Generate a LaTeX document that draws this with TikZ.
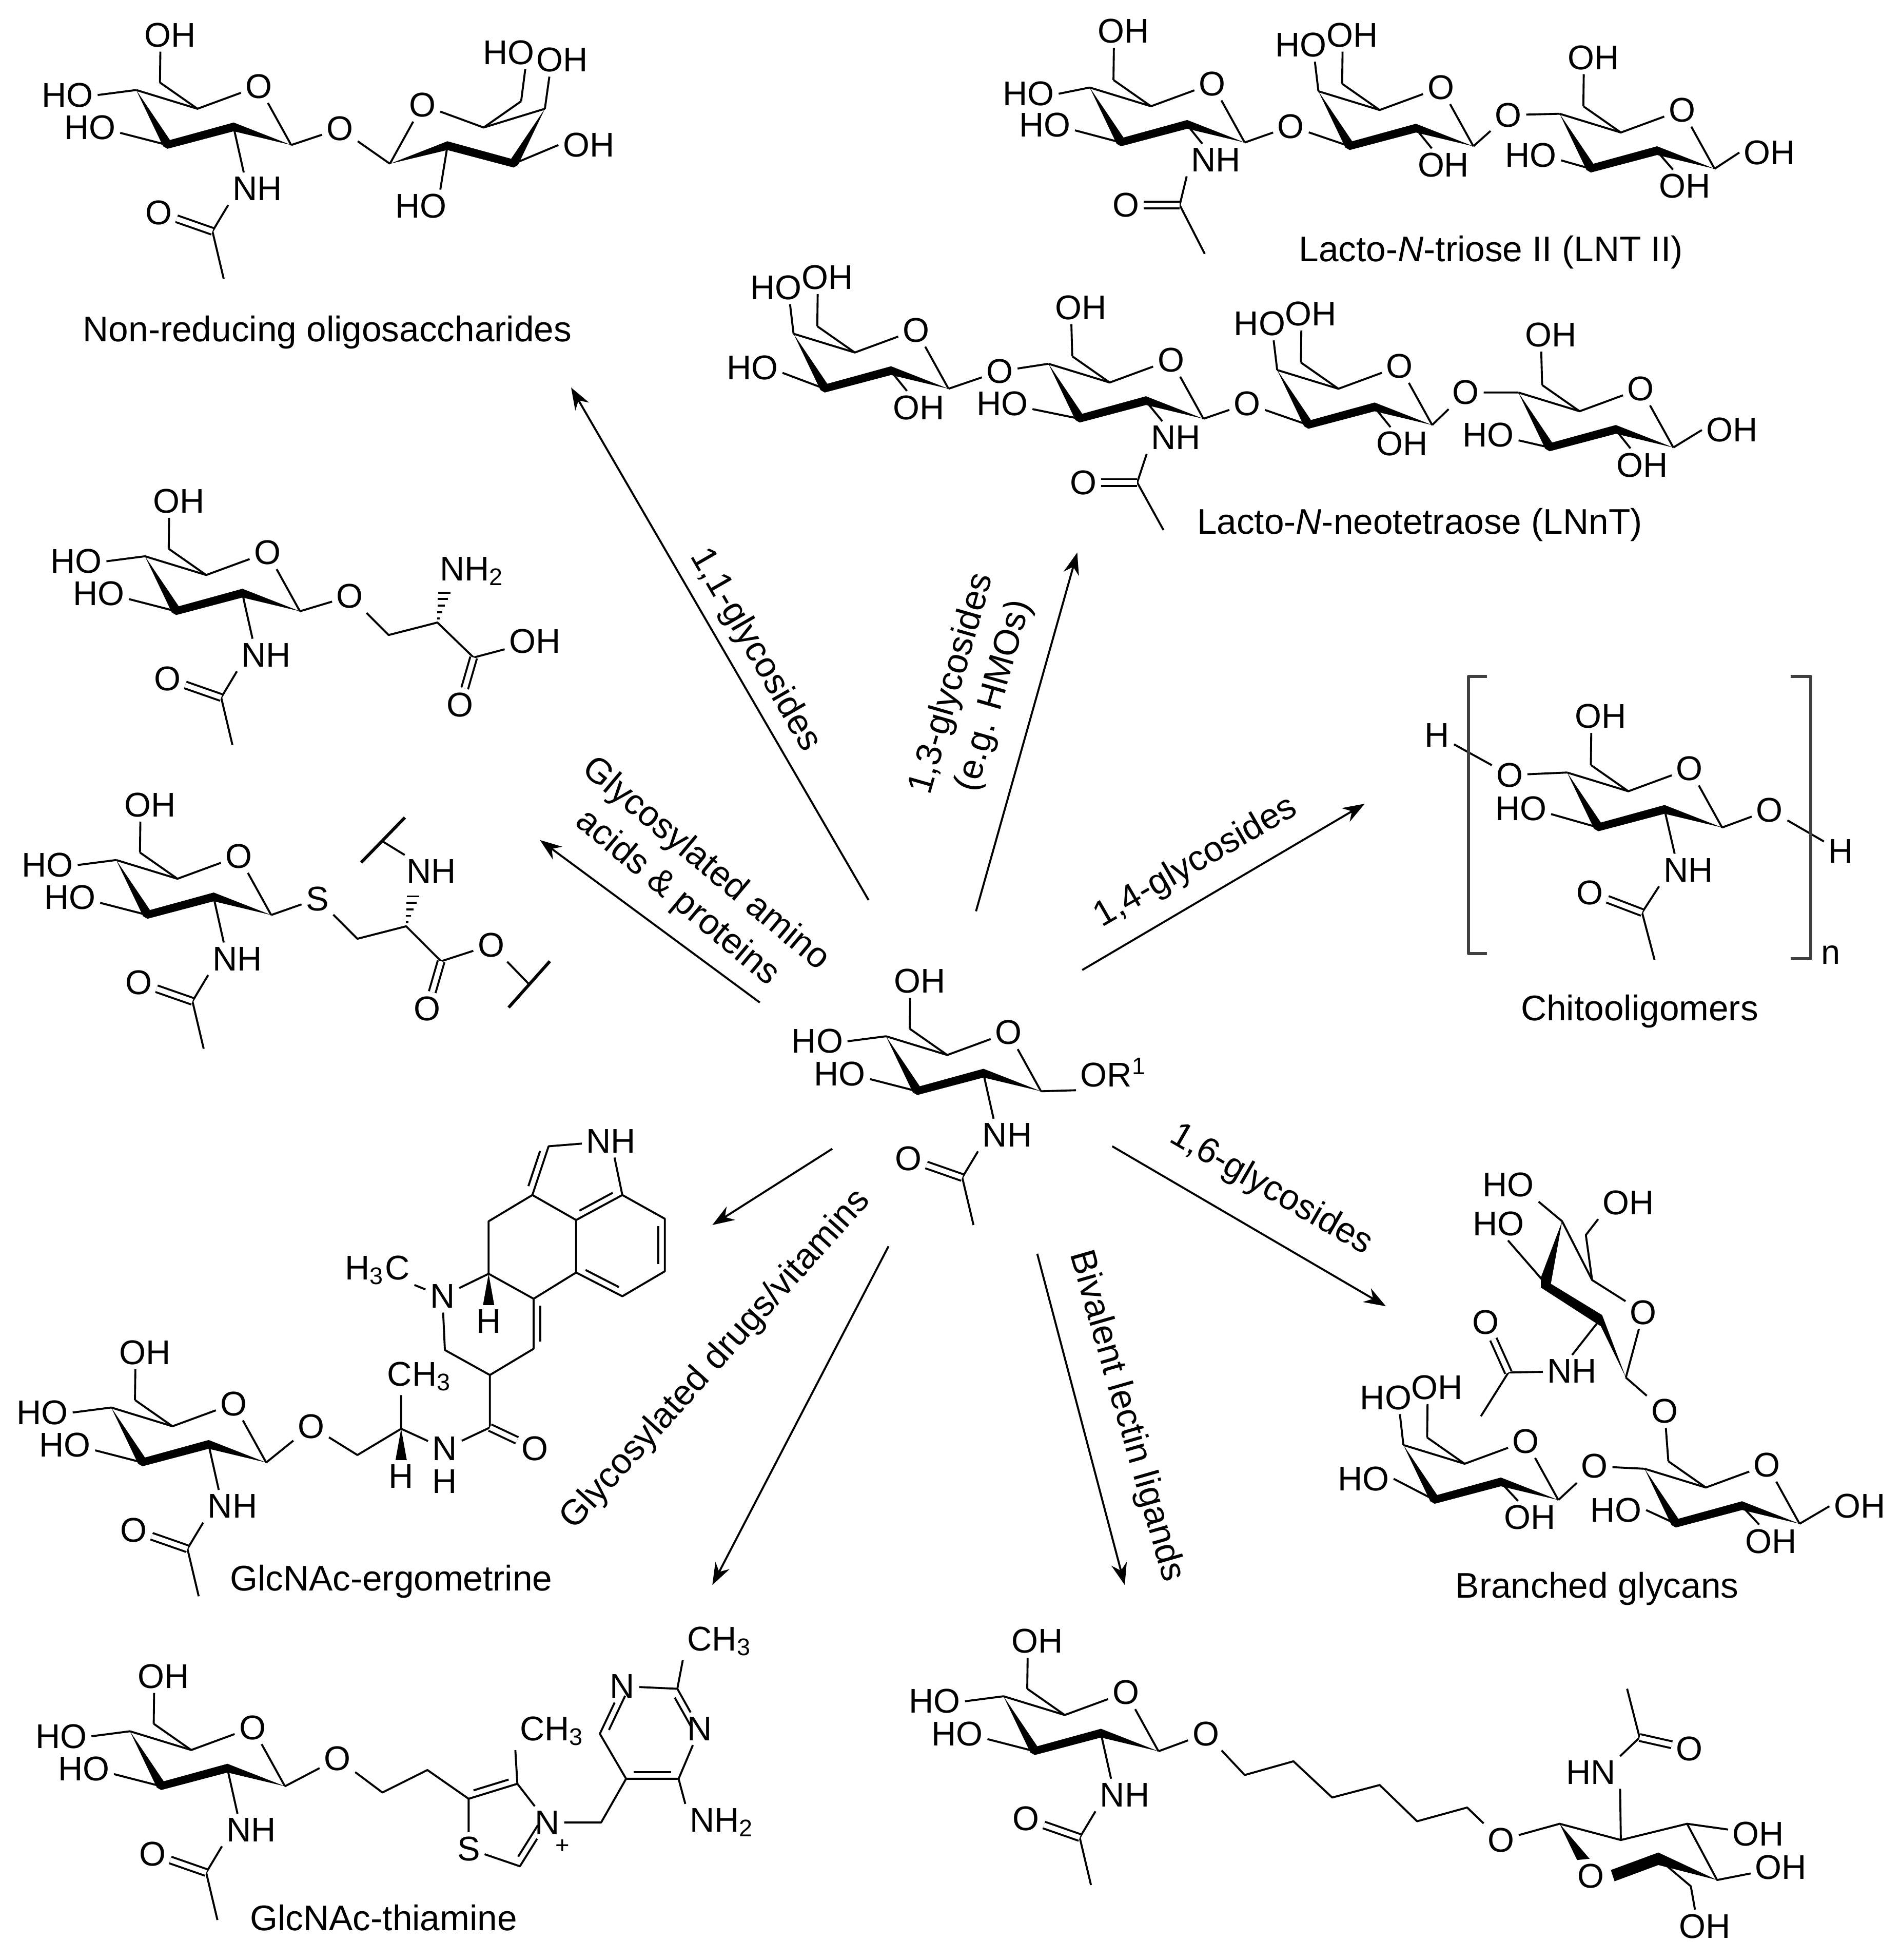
\documentclass[tikz,border=0pt]{standalone}
\usepackage{fontspec}
\setmainfont{Liberation Sans}
\usetikzlibrary{arrows.meta,calc}
\tikzset{
atom/.style={inner sep=.8pt,font=\fontsize{7.8}{9}\selectfont},
chg/.style={inner sep=0pt,font=\fontsize{5.5}{6}\selectfont},
lbl/.style={inner sep=0pt,align=center,font=\fontsize{8.1}{10}\selectfont},
dbl/.style={double,double distance=1.1pt},
rxn/.style={-{Stealth[length=5pt,width=3.6pt]}},
cutline/.style={line width=.7pt},
brack/.style={line width=.7pt,draw=black!75}
}
\newcommand{\lig}[5]{\node[atom] (#2) at (#3) {#4}; \draw (#1) -- (#2.#5);}
\newcommand{\sugar}[2]{\begin{scope}[#2]
\coordinate (#1c1) at (99,0);
\coordinate (#1c2) at (53,-14);
\coordinate (#1c3) at (0,0);
\coordinate (#1c4) at (-25,-44);
\coordinate (#1c5) at (24,-29);
\coordinate (#1c6) at (-6,-50);
\node[atom] (#1o5) at (73,-47) {O};
\fill (#1c4) -- (-3.5,1) -- (0,3) -- (53,-11) -- (#1c1) -- (53,-18) -- (2,-4) -- cycle;
\draw (#1c4) -- (#1c5) -- (#1o5) -- (#1c1);
\draw (#1c5) -- (#1c6);
\end{scope}}
\newcommand{\acet}[5]{\node[atom] (#1nh) at (#2) {NH};
\coordinate (#1ac) at (#3);
\node[atom] (#1ao) at (#4) {O};
\coordinate (#1me) at (#5);
\draw (#1c2) -- (#1nh.130);
\draw (#1nh.south west) -- (#1ac) -- (#1me);
\draw[dbl] (#1ac) -- (#1ao);}
\newcommand{\glcnac}[2]{\sugar{#1}{shift={#2}}
\begin{scope}[shift={#2}]
\lig{#1c6}{#1h6}{2,-88}{OH}{240}
\lig{#1c4}{#1h4}{-80,-40}{HO}{east}
\lig{#1c3}{#1h3}{-62,-14}{HO}{-10}
\acet{#1}{72,35}{36,69}{-7,54}{45,107}
\end{scope}}
\newcommand{\galose}[2]{\sugar{#1}{shift={#2}}
\begin{scope}[shift={#2}]
\lig{#1c6}{#1h6}{2,-89}{OH}{240}
\lig{#1c4}{#1h4}{-39,-81}{HO}{310}
\lig{#1c2}{#1h2}{75,15}{OH}{125}
\end{scope}}
\newcommand{\inbond}[4]{\draw ($(#1)!.14!(#2)!1.5pt!#3:(#2)$) -- ($(#2)!.14!(#1)!1.5pt!#4:(#1)$);}
\newcommand{\hashb}[2]{\foreach \t/\w in {.12/1,.32/2,.52/3,.72/4,.92/5}{\draw ($(#1)!\t!(#2)+(-\w,0)$) -- ($(#1)!\t!(#2)+(\w,0)$);}}
\newcommand{\wedgeb}[2]{\fill (#1) -- ($(#2)+(-4.5,0)$) -- ($(#2)+(4.5,0)$) -- cycle;}
\begin{document}
\begin{tikzpicture}[x=0.01cm,y=-0.01cm,line width=.45pt,line join=round]
\useasboundingbox (0,0) rectangle (1520,1568);

\glcnac{m}{(734,873)}
\node[atom,anchor=west] (mr) at (861,858) {OR\textsuperscript{1}};
\draw (mc1) -- (mr.205);

\glcnac{a}{(134,116)}
\node[atom] (ao) at (272,103) {O};
\sugar{b}{shift={(411,131)},xscale=-1}
\draw (ac1) -- (ao) -- (bc1);
\lig{bc6}{bh6}{407,42}{HO}{315}
\lig{bc4}{bh4}{450,48}{OH}{232}
\lig{bc3}{bh3}{471,116}{OH}{west}
\lig{bc2}{bh2}{337,165}{HO}{41}
\node[lbl] (lnonred) at (262,266) {Non-reducing oligosaccharides};

\glcnac{c}{(141,489)}
\node[atom] (co) at (280,477) {O};
\coordinate (cch2) at (311,508);
\coordinate (cch) at (350,498);
\coordinate (ccc) at (379,526);
\coordinate (chs) at (356,472);
\node[atom] (cam) at (378,457) {NH\textsubscript{2}};
\node[atom] (coh) at (428,513) {OH};
\node[atom] (cdo) at (368,564) {O};
\draw (cc1) -- (co) -- (cch2) -- (cch) -- (ccc) -- (coh);
\draw[dbl] (ccc) -- (cdo);
\hashb{cch}{chs}

\glcnac{d}{(118,732)}
\node[atom] (ds) at (254,719) {S};
\coordinate (dch2) at (286,751);
\coordinate (dch) at (325,741);
\coordinate (dcc) at (353,769);
\coordinate (dhs) at (331,715);
\coordinate (dcut) at (306,673);
\coordinate (dcuta) at (324,654);
\coordinate (dcutb) at (289,690);
\coordinate (ecut) at (423,787);
\coordinate (ecuta) at (440,769);
\coordinate (ecutb) at (407,806);
\node[atom] (dnh) at (345,697) {NH};
\node[atom] (ddo) at (342,807) {O};
\node[atom] (doe) at (393,756) {O};
\draw (dc1) -- (ds) -- (dch2) -- (dch) -- (dcc) -- (doe) -- (ecut);
\draw (dnh) -- (dcut);
\draw[dbl] (dcc) -- (ddo);
\draw[cutline] (dcuta) -- (dcutb);
\draw[cutline] (ecuta) -- (ecutb);
\hashb{dch}{dhs}

\glcnac{e}{(114,1170)}
\node[atom] (eo) at (249,1141) {O};
\coordinate (ech2) at (286,1164);
\coordinate (ech) at (321,1143);
\coordinate (ewd) at (321,1168);
\coordinate (ecn) at (392,1142);
\coordinate (ec8) at (392,1100);
\coordinate (ec9) at (427,1079);
\coordinate (ec10) at (427,1039);
\coordinate (ec7) at (356,1080);
\coordinate (ec5) at (391,1019);
\coordinate (ewh) at (391,1044);
\coordinate (ec4) at (391,977);
\coordinate (ec3) at (426,956);
\coordinate (ec2) at (439,917);
\coordinate (ear1) at (461,976);
\coordinate (ear2) at (461,1018);
\coordinate (ear3) at (498,1037);
\coordinate (ear4) at (532,1017);
\coordinate (ear5) at (532,975);
\coordinate (ear6) at (498,956);
\node[atom] (ech3) at (336,1101) {CH\textsubscript{3}};
\node[atom] (ehh) at (321,1181) {H};
\node[atom] (enn) at (356,1159) {N};
\node[atom] (enh) at (356,1185) {H};
\node[atom] (edo) at (428,1159) {O};
\node[atom] (en) at (354,1037) {N};
\node[atom] (ehr) at (391,1057) {H};
\node[atom] (eme) at (302,1016) {H\textsubscript{3}C};
\node[atom] (ein) at (489,913) {NH};
\draw (ec1) -- (eo) -- (ech2) -- (ech) -- (ech3.south -| ech);
\draw (ech) -- (enn) -- (ecn) -- (ec8) -- (ec9);
\draw[dbl] (ecn) -- (edo);
\draw (ec8) -- (ec7) -- (en) -- (ec5) -- (ec10) -- (ec9);
\draw (eme) -- (en);
\draw (ec5) -- (ec4) -- (ec3) -- (ear1) -- (ear2) -- (ec10);
\draw (ec3) -- (ec2) -- (ein) -- (ear6) -- (ear1);
\draw (ear2) -- (ear3) -- (ear4) -- (ear5) -- (ear6);
\inbond{ec2}{ec3}{-90}{90}
\inbond{ear1}{ear6}{90}{-90}
\inbond{ear4}{ear5}{90}{-90}
\inbond{ear2}{ear3}{90}{-90}
\inbond{ec10}{ec9}{90}{-90}
\wedgeb{ech}{ewd}
\wedgeb{ec5}{ewh}
\node[lbl] (lergo) at (313,1265) {GlcNAc-ergometrine};

\glcnac{f}{(129,1429)}
\node[atom] (fo) at (270,1407) {O};
\coordinate (fch1) at (306,1434);
\coordinate (fch2) at (342,1416);
\coordinate (fc5) at (375,1439);
\coordinate (fc4) at (414,1427);
\coordinate (fc2) at (416,1493);
\coordinate (fcn) at (481,1458);
\coordinate (fp5) at (501,1423);
\coordinate (fp4) at (543,1423);
\coordinate (fp2) at (542,1351);
\coordinate (fp6) at (480,1387);
\node[atom] (fme) at (442,1385) {CH\textsubscript{3}};
\node[atom] (fn) at (438,1458) {N};
\node[chg] (fpl) at (450,1477) {+};
\node[atom] (fs) at (375,1479) {S};
\node[atom] (fn3) at (560,1383) {N};
\node[atom] (fn1) at (498,1349) {N};
\node[atom] (fme2) at (576,1313) {CH\textsubscript{3}};
\node[atom] (fam) at (578,1458) {NH\textsubscript{2}};
\draw (fc1) -- (fo) -- (fch1) -- (fch2) -- (fc5) -- (fc4) -- (fn) -- (fcn) -- (fp5) -- (fp4) -- (fn3) -- (fp2) -- (fn1) -- (fp6) -- (fp5);
\draw (fc5) -- (fs) -- (fc2) -- (fn);
\draw (fc4) -- (fme.south west);
\draw (fp2) -- (fme2.south west);
\draw (fp4) -- (fam.north west);
\inbond{fc5}{fc4}{90}{-90}
\inbond{fn}{fc2}{-90}{90}
\inbond{fp5}{fp4}{90}{-90}
\inbond{fp2}{fn3}{-90}{90}
\inbond{fp6}{fn1}{-90}{90}
\node[lbl] (lthia) at (307,1534) {GlcNAc-thiamine};

\glcnac{g}{(828,1401)}
\node[atom] (go) at (965,1387) {O};
\coordinate (gl1) at (996,1420);
\coordinate (gl2) at (1035,1409);
\coordinate (gl3) at (1066,1438);
\coordinate (gl4) at (1104,1428);
\coordinate (gl5) at (1134,1457);
\coordinate (gl6) at (1174,1446);
\node[atom] (go2) at (1201,1472) {O};
\draw (gc1) -- (go) -- (gl1) -- (gl2) -- (gl3) -- (gl4) -- (gl5) -- (gl6) -- (go2);
\coordinate (kc1) at (1248,1459);
\coordinate (kc2) at (1297,1472);
\coordinate (kc3) at (1350,1459);
\coordinate (kc4) at (1374,1504);
\coordinate (kc5) at (1327,1487);
\coordinate (kc6) at (1353,1509);
\coordinate (kac) at (1312,1390);
\coordinate (kme) at (1302,1351);
\coordinate (kw) at (1267,1488);
\node[atom] (ko) at (1273,1501) {O};
\node[atom] (knh) at (1273,1418) {HN};
\node[atom] (kdo) at (1352,1399) {O};
\node[atom] (kh3) at (1407,1467) {OH};
\node[atom] (kh4) at (1425,1494) {OH};
\node[atom] (kh6) at (1364,1541) {OH};
\draw (go2) -- (kc1) -- (kc2) -- (kc3) -- (kh3);
\draw (kc3) -- (kc4) -- (kh4);
\draw (kc5) -- (kc6) -- (kh6.120);
\draw (kc2) -- (knh.south east);
\draw (knh.north east) -- (kac) -- (kme);
\draw[dbl] (kac) -- (kdo);
\fill (kc1) -- (1262,1488) -- (1272,1487) -- cycle;
\fill (1289,1496) -- (1327,1482) -- (kc4) -- (1327,1492) -- (1292,1505) -- cycle;

\sugar{h}{shift={(1279,662)}}
\node[atom] (ho4) at (1208,620) {O};
\node[atom] (hh) at (1150,588) {H};
\node[atom] (ho1) at (1416,648) {O};
\node[atom] (hhr) at (1473,681) {H};
\draw (hc4) -- (ho4) -- (hh);
\draw (hc1) -- (ho1) -- (hhr);
\begin{scope}[shift={(1279,662)}]
\lig{hc6}{hh6}{2,-89}{OH}{240}
\lig{hc3}{hh3}{-62,-15}{HO}{-10}
\acet{h}{72,34}{35,68}{-7,52}{45,106}
\end{scope}
\draw[brack] (1190,541) -| (1175,763) -- (1190,763);
\draw[brack] (1433,541) -| (1449,767) -- (1433,767);
\node[atom] (hn) at (1465,764) {n};
\node[lbl] (lchito) at (1312,809) {Chitooligomers};

\coordinate (nc1) at (1250,977);
\coordinate (nc2) at (1236,1026);
\coordinate (nc3) at (1280,1056);
\coordinate (nc4) at (1301,1102);
\coordinate (nc5) at (1274,1024);
\coordinate (nc6) at (1269,988);
\coordinate (nac) at (1207,1098);
\coordinate (nme) at (1185,1133);
\node[atom] (no) at (1315,1050) {O};
\node[atom] (nh1) at (1207,948) {HO};
\node[atom] (nh2) at (1199,979) {HO};
\node[atom] (nh3) at (1303,962) {OH};
\node[atom] (nnh) at (1258,1097) {NH};
\node[atom] (ndo) at (1189,1058) {O};
\node[atom] (nl) at (1332,1129) {O};
\draw (nh1.south east) -- (nc1) -- (nc5) -- (no) -- (nc4);
\draw (nh2.-60) -- (nc2);
\draw (nh3.south west) -- (nc6) -- (nc5);
\fill (nc1) -- (1233,1022) -- (1233,1030) -- (1281,1061) -- (nc4) -- (1282,1052) -- (1241,1027) -- cycle;
\draw (nc3) -- (nnh.north);
\draw (nnh) -- (nac) -- (nme);
\draw[dbl] (nac) -- (ndo);
\sugar{p}{shift={(1341,1219)}}
\lig{pc3}{ph3}{1293,1208}{HO}{east}
\lig{pc2}{ph2}{1417,1233}{OH}{125}
\lig{pc1}{ph1}{1488,1205}{OH}{west}
\coordinate (pl) at (1333,1167);
\node[atom] (po) at (1276,1173) {O};
\sugar{q}{shift={(1148,1200)}}
\lig{qc6}{qh6}{1150,1110}{OH}{240}
\lig{qc4}{qh4}{1109,1118}{HO}{310}
\lig{qc3}{qh3}{1091,1183}{HO}{east}
\lig{qc2}{qh2}{1224,1214}{OH}{125}
\draw (nc4) -- (nl) -- (pc6);
\draw (qc1) -- (po) -- (pc4);
\node[lbl] (lbranch) at (1278,1271) {Branched glycans};

\sugar{t}{shift={(897,114)}}
\lig{tc6}{th6}{899,25}{OH}{240}
\lig{tc4}{th4}{823,75}{HO}{east}
\lig{tc3}{th3}{836,100}{HO}{-10}
\acet{t}{973,128}{944,164}{901,164}{964,203}
\node[atom] (tl1) at (1033,101) {O};
\galose{u}{(1080,117)}
\node[atom] (tl2) at (1207,92) {O};
\sugar{v}{shift={(1273,135)}}
\lig{vc6}{vh6}{1275,46}{OH}{240}
\lig{vc3}{vh3}{1225,124}{HO}{-10}
\lig{vc2}{vh2}{1348,149}{OH}{125}
\lig{vc1}{vh1}{1416,122}{OH}{west}
\draw (tc1) -- (tl1) -- (uc3);
\draw (uc1) -- (tl2) -- (vc4);
\node[lbl] (llnt) at (1193,202) {Lacto-\textit{N}-triose II (LNT II)};

\galose{w}{(660,311)}
\node[atom] (wh3) at (602,294) {HO};
\draw (wc3) -- (wh3.-10);
\node[atom] (wl) at (800,297) {O};
\sugar{x}{shift={(864,335)}}
\lig{xc6}{xh6}{865,246}{OH}{240}
\lig{xc3}{xh3}{802,323}{HO}{-10}
\acet{x}{941,350}{910,386}{867,386}{931,424}
\node[atom] (xl) at (998,323) {O};
\galose{y}{(1047,340)}
\node[atom] (yl) at (1173,314) {O};
\sugar{z}{shift={(1240,358)}}
\lig{zc6}{zh6}{1241,268}{OH}{240}
\lig{zc3}{zh3}{1191,348}{HO}{-10}
\lig{zc2}{zh2}{1314,372}{OH}{125}
\lig{zc1}{zh1}{1386,344}{OH}{west}
\draw (wc1) -- (wl) -- (xc4);
\draw (xc1) -- (xl) -- (yc3);
\draw (yc1) -- (yl) -- (zc4);
\node[lbl] (llnnt) at (1136,420) {Lacto-\textit{N}-neotetraose (LNnT)};

\coordinate (r1a) at (695,720);
\coordinate (r1b) at (457,310);
\coordinate (r2a) at (781,729);
\coordinate (r2b) at (862,442);
\coordinate (r3a) at (866,776);
\coordinate (r3b) at (1092,643);
\coordinate (r4a) at (608,802);
\coordinate (r4b) at (432,672);
\coordinate (r5a) at (890,917);
\coordinate (r5b) at (1109,1045);
\coordinate (r6a) at (666,919);
\coordinate (r6b) at (570,980);
\coordinate (r7a) at (711,997);
\coordinate (r7b) at (570,1268);
\coordinate (r8a) at (830,1003);
\coordinate (r8b) at (900,1268);
\draw[rxn] (r1a) -- (r1b);
\draw[rxn] (r2a) -- (r2b);
\draw[rxn] (r3a) -- (r3b);
\draw[rxn] (r4a) -- (r4b);
\draw[rxn] (r5a) -- (r5b);
\draw[rxn] (r6a) -- (r6b);
\draw[rxn] (r7a) -- (r7b);
\draw[rxn] (r8a) -- (r8b);
\node[lbl,rotate=-60] (l1) at (604,520) {1,1-glycosides};
\node[lbl,rotate=74] (l2) at (779,552) {1,3-glycosides\\(e.g. HMOs)};
\node[lbl,rotate=30] (l3) at (957,690) {1,4-glycosides};
\node[lbl,rotate=-40] (l4) at (553,705) {Glycosylated amino\\acids \& proteins};
\node[lbl,rotate=-30] (l5) at (1017,952) {1,6-glycosides};
\node[lbl,rotate=48] (l6) at (573,1088) {Glycosylated drugs/vitamins};
\node[lbl,rotate=-74] (l7) at (901,1133) {Bivalent lectin ligands};
\end{tikzpicture}
\end{document}
